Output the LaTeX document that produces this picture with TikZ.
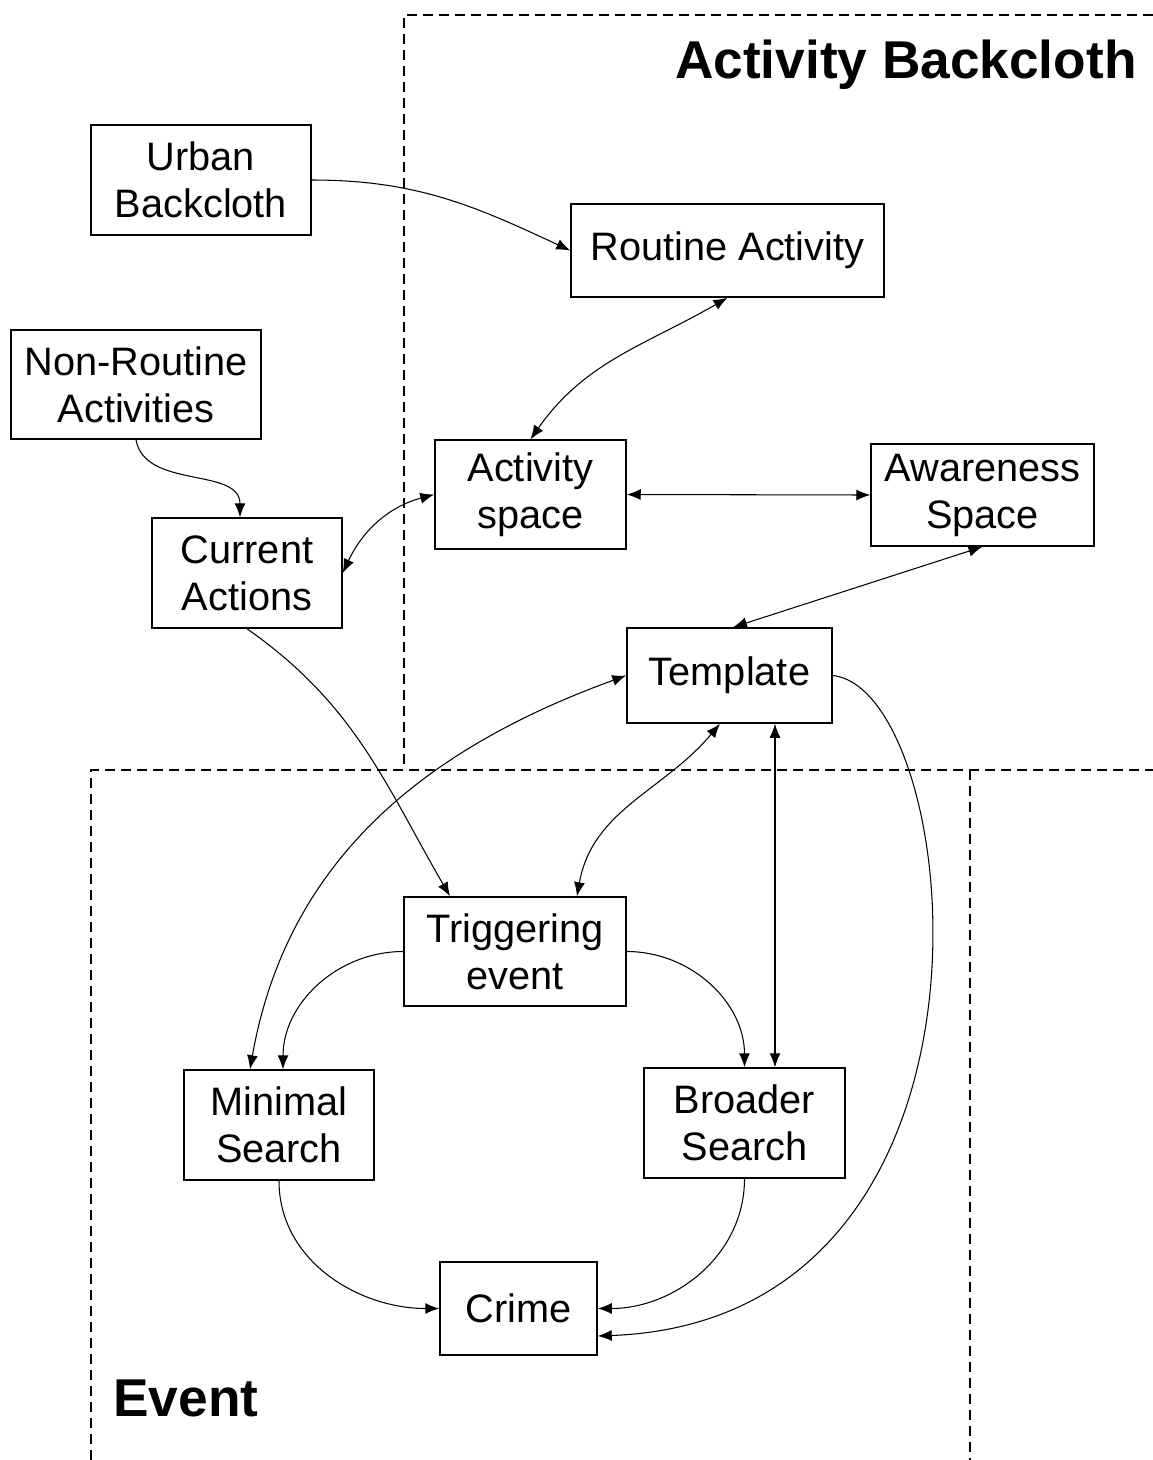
\documentclass[tikz,border=0pt]{standalone}
\usepackage{fontspec}
\setmainfont{Liberation Sans}
\usepackage{tikz}
\usetikzlibrary{arrows.meta,positioning,calc}

\begin{document}
\begin{tikzpicture}[
  box/.style={rectangle, draw=black, line width=0.85pt, align=center, inner sep=0pt, font=\fontsize{22.6}{26.7}\selectfont},
  link/.style={-{Latex[length=2.8mm,width=2.2mm]}, line width=0.6pt},
  both/.style={{Latex[length=2.8mm,width=2.2mm]}-{Latex[length=2.8mm,width=2.2mm]}, line width=0.6pt},
  region/.style={dashed, dash pattern=on 2mm off 1.2mm, line width=0.85pt},
  heading/.style={font=\fontsize{30.3}{36}\selectfont\bfseries, inner sep=0pt}
]
\useasboundingbox (0,0) rectangle (23.06,-29.2);

% regions
\draw[region] (23.06,-0.30) -- (8.08,-0.30) -- (8.08,-15.40);
\draw[region] (1.82,-29.2) -- (1.82,-15.40) -- (23.06,-15.40);
\draw[region] (19.40,-15.40) -- (19.40,-29.2);
\node[heading, anchor=base east] (tback) at (22.74,-1.56) {Activity Backcloth};
\node[heading, anchor=base west] (tevent) at (2.26,-28.32) {Event};

% boxes
\node[box, minimum width=4.4cm, minimum height=2.2cm] (ub) at (4.02,-3.60) {Urban\\Backcloth};
\node[box, minimum width=6.26cm, minimum height=1.86cm] (ra) at (14.55,-5.01) {Routine Activity};
\node[box, minimum width=5.0cm, minimum height=2.18cm] (nr) at (2.72,-7.69) {Non-Routine\\Activities};
\node[box, minimum width=3.82cm, minimum height=2.18cm] (as) at (10.61,-9.89) {Activity\\space};
\node[box, minimum width=4.46cm, minimum height=2.04cm] (aw) at (19.65,-9.90) {Awareness\\Space};
\node[box, minimum width=3.8cm, minimum height=2.2cm] (ca) at (4.94,-11.46) {Current\\Actions};
\node[box, minimum width=4.1cm, minimum height=1.9cm] (tp) at (14.59,-13.51) {Template};
\node[box, minimum width=4.44cm, minimum height=2.18cm] (te) at (10.30,-19.03) {Triggering\\event};
\node[box, minimum width=3.8cm, minimum height=2.2cm] (ms) at (5.58,-22.50) {Minimal\\Search};
\node[box, minimum width=4.02cm, minimum height=2.2cm] (bs) at (14.89,-22.46) {Broader\\Search};
\node[box, minimum width=3.14cm, minimum height=1.86cm] (cr) at (10.37,-26.17) {Crime};

% connectors
\draw[link] (ub.east) to[out=0, in=155] (ra.west);
\draw[both] (as.north) to[out=55, in=210] (ra.south);
\draw[both] (as.west) to[out=195, in=65] (ca.east);
\draw[both] (as.east) -- (aw.west);
\draw[both] (aw.south) -- ([xshift=0.07cm]tp.north);
\draw[link] (nr.south) to[out=-80, in=90] ([xshift=-0.14cm]ca.north);
\draw[link] (ca.south) to[out=-35, in=120] ([xshift=-1.3cm]te.north);
\draw[both] (tp.west) to[out=200, in=80] ([xshift=-0.58cm]ms.north);
\draw[both] ([xshift=-0.19cm]tp.south) to[out=230, in=80] ([xshift=1.24cm]te.north);
\draw[both] ([xshift=0.91cm]tp.south) -- ([xshift=0.61cm]bs.north);
\draw[link] (te.west) to[out=180, in=90] ([xshift=0.08cm]ms.north);
\draw[link] (te.east) to[out=0, in=90] (bs.north);
\draw[link] (ms.south) to[out=-90, in=180] (cr.west);
\draw[link] (bs.south) to[out=-90, in=0] (cr.east);
\draw[link] (tp.east) .. controls (19.3,-13.8) and (20.6,-26.4) .. ([yshift=-0.55cm]cr.east);
\end{tikzpicture}
\end{document}
